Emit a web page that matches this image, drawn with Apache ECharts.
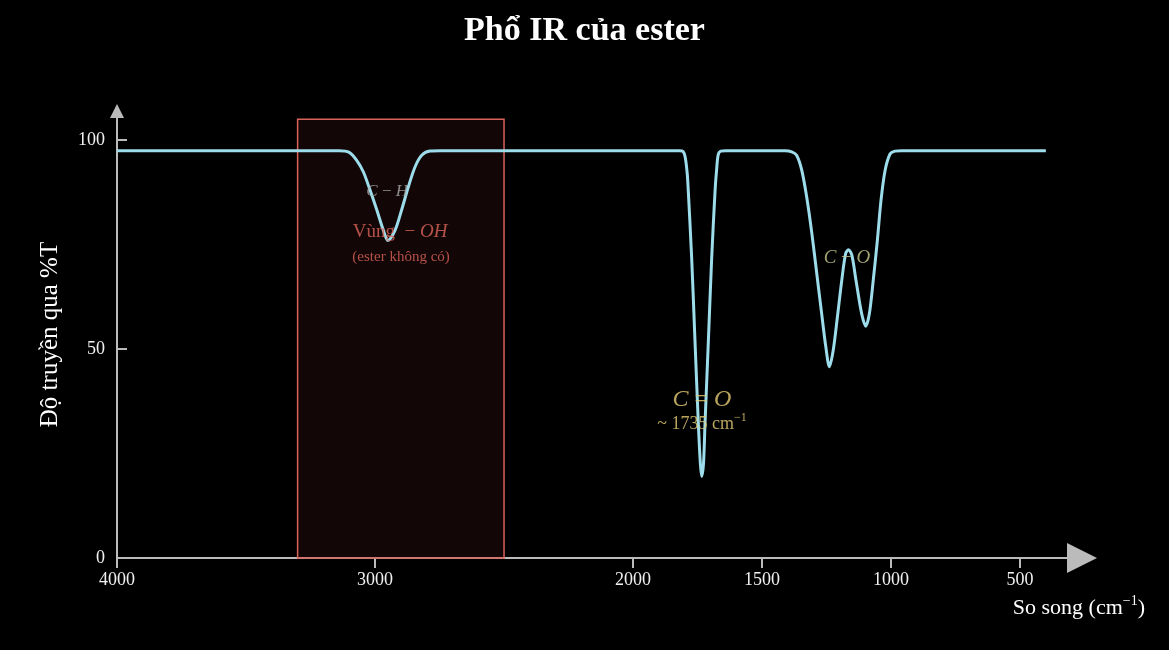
<!DOCTYPE html>
<html>
<head>
<meta charset="utf-8">
<script src="https://cdn.jsdelivr.net/npm/echarts@6/dist/echarts.min.js"></script>
<style>
    html, body { margin: 0; padding: 0; background: #000; }
    #ir-chart { width: 1169px; height: 650px; }
</style>
</head>
<body>
<div id="ir-chart"></div>
<script>
'use strict';

// spectrum: wavenumber (cm-1) -> %T
var wavenumbers = [
    4000, 3600, 3300, 3140, 3100, 3071, 3045, 3019, 2993, 2968, 2950, 2922, 2897, 2871, 2845, 2819, 2787, 2748,
    2400, 2000, 1820, 1806, 1798, 1790, 1786, 1773, 1760, 1747, 1739, 1734, 1727, 1721, 1708, 1695, 1682, 1676, 1670, 1660, 1640,
    1500, 1410, 1385, 1366, 1346, 1327, 1307, 1288, 1269, 1253, 1239, 1224, 1208, 1191, 1176, 1165, 1152, 1136, 1114, 1098,
    1084, 1069, 1053, 1039, 1023, 1004, 985, 960, 700, 400
];
var transmittance = [
    97.5, 97.5, 97.5, 97.5, 97.1, 95.2, 92.4, 88.0, 83.3, 78.5, 76.0, 78.5, 83.3, 88.8, 93.6, 96.4, 97.4, 97.5,
    97.5, 97.5, 97.5, 97.3, 96.0, 92.0, 88.0, 72.1, 52.1, 32.3, 22.5, 19.5, 22.5, 32.3, 52.1, 72.1, 88.0, 93.0, 96.5, 97.4, 97.5,
    97.5, 97.5, 97.2, 96.4, 92.8, 86.4, 77.7, 68.1, 58.5, 50.6, 45.8, 49.8, 57.7, 66.5, 72.9, 73.8, 72.5, 66.5, 58.5, 55.5,
    58.5, 66.5, 76.1, 85.6, 92.8, 96.7, 97.4, 97.5, 97.5, 97.5
];

var x_ticks = [4000, 3000, 2000, 1500, 1000, 500];
var y_ticks = [0, 50, 100];

// -OH band box: from / to wavenumber, top %T
var oh_band = [3300, 2500];
var oh_top = 105;

// annotations: rich text and anchor (wavenumber, %T)
var note_texts = [
    '{i|C}{u| − }{i|H}',
    '{r|Vùng  − }{ri|OH}',
    '{rs|(ester không có)}',
    '{y|C}{yu| = }{y|O}',
    '{ys|~ 1735 cm}{ysup|−1}',
    '{g|C}{gu| − }{g|O}'
];
var note_anchors = [
    [2953, 87.8],
    [2903, 78.0],
    [2899, 72.0],
    [1733, 37.8],
    [1733, 32.0],
    [1171, 71.8]
];

(function (echarts) {

    var SERIF = '"Liberation Serif", "DejaVu Serif", serif';
    var AXIS_COLOR = '#bbbbbb';

    var IrChart = {
        chart: null,

        init: function () {
            this.chart = echarts.init(document.getElementById('ir-chart'));
            this.chart.setOption(this.buildOption());
        },

        spectrum: function () {
            return wavenumbers.map(function (w, i) {
                return [w, transmittance[i]];
            });
        },

        notes: function () {
            return note_anchors.map(function (p, i) {
                return { value: p, label: { formatter: note_texts[i] } };
            });
        },

        buildOption: function () {
            return {
                backgroundColor: '#000',
                animation: false,
                title: {
                    text: 'Phổ IR của ester',
                    left: 'center',
                    top: 9,
                    textStyle: { fontFamily: SERIF, fontWeight: 'bold', fontSize: 34, color: '#fff' }
                },
                grid: { left: 117, right: 87, top: 111, bottom: 92 },
                xAxis: {
                    type: 'value',
                    inverse: true,
                    min: 260,
                    max: 4000,
                    splitLine: { show: false },
                    axisLine: {
                        symbol: ['none', 'triangle'],
                        symbolSize: [30, 30],
                        lineStyle: { color: AXIS_COLOR, width: 2 }
                    },
                    axisTick: {
                        customValues: x_ticks,
                        length: 10,
                        lineStyle: { color: AXIS_COLOR, width: 2 }
                    },
                    axisLabel: {
                        customValues: x_ticks,
                        formatter: function (v) { return String(v); },
                        margin: 13,
                        color: '#f0f0f0',
                        fontFamily: SERIF,
                        fontSize: 18
                    }
                },
                yAxis: {
                    type: 'value',
                    min: 0,
                    max: 107,
                    splitLine: { show: false },
                    name: 'Độ truyền qua %T',
                    nameLocation: 'middle',
                    nameGap: 54,
                    nameTextStyle: { fontFamily: SERIF, fontSize: 25, color: '#fff' },
                    axisLine: {
                        show: true,
                        symbol: ['none', 'triangle'],
                        symbolSize: [14, 14],
                        lineStyle: { color: AXIS_COLOR, width: 2 }
                    },
                    axisTick: {
                        show: true,
                        inside: true,
                        customValues: y_ticks,
                        length: 10,
                        lineStyle: { color: AXIS_COLOR, width: 2 }
                    },
                    axisLabel: {
                        customValues: y_ticks,
                        margin: 12,
                        color: '#f0f0f0',
                        fontFamily: SERIF,
                        fontSize: 18
                    }
                },
                graphic: [{
                    type: 'text',
                    right: 24,
                    top: 594,
                    style: {
                        text: '{n|So song (cm}{s|−1}{n|)}',
                        fill: '#fff',
                        rich: {
                            n: { fontFamily: SERIF, fontSize: 22, fill: '#fff' },
                            s: { fontFamily: SERIF, fontSize: 14, fill: '#fff', padding: [0, 0, 14, 0] }
                        }
                    }
                }],
                series: [
                    {
                        type: 'line',
                        data: this.spectrum(),
                        showSymbol: false,
                        smooth: 0.3,
                        lineStyle: { color: '#9cdceb', width: 3 },
                        z: 3,
                        markArea: {
                            silent: true,
                            itemStyle: {
                                color: 'rgba(252, 98, 85, 0.07)',
                                borderColor: '#d9625a',
                                borderWidth: 1.5
                            },
                            data: [[
                                { xAxis: oh_band[0], yAxis: 0 },
                                { xAxis: oh_band[1], yAxis: oh_top }
                            ]]
                        }
                    },
                    {
                        type: 'scatter',
                        data: this.notes(),
                        symbolSize: 0,
                        silent: true,
                        z: 4,
                        label: {
                            show: true,
                            position: 'inside',
                            color: '#ffffff',
                            rich: {
                                i: { fontFamily: SERIF, fontStyle: 'italic', fontSize: 17, color: '#ababab' },
                                u: { fontFamily: SERIF, fontSize: 17, color: '#ababab' },
                                r: { fontFamily: SERIF, fontSize: 19, color: '#e0645a' },
                                ri: { fontFamily: SERIF, fontStyle: 'italic', fontSize: 19, color: '#e0645a' },
                                rs: { fontFamily: SERIF, fontSize: 15, color: '#e0645a' },
                                y: { fontFamily: SERIF, fontStyle: 'italic', fontSize: 24, color: '#e6cd74' },
                                yu: { fontFamily: SERIF, fontSize: 24, color: '#e6cd74' },
                                ys: { fontFamily: SERIF, fontSize: 18, color: '#e6cd74' },
                                ysup: { fontFamily: SERIF, fontSize: 12, color: '#e6cd74', padding: [0, 0, 12, 0] },
                                g: { fontFamily: SERIF, fontStyle: 'italic', fontSize: 19, color: '#c9c98f' },
                                gu: { fontFamily: SERIF, fontSize: 19, color: '#c9c98f' }
                            }
                        }
                    }
                ]
            };
        }
    };

    IrChart.init();

})(echarts);
</script>
</body>
</html>
